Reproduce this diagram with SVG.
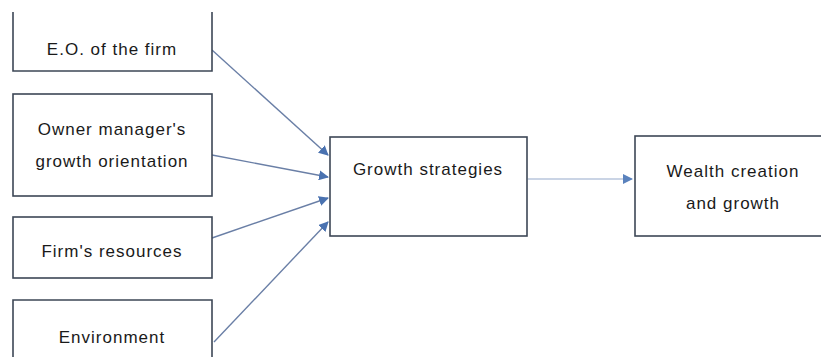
<svg xmlns="http://www.w3.org/2000/svg" width="821" height="357" viewBox="0 0 821 357">
  <defs>
    <marker id="arrow" viewBox="0 0 10 10" refX="9" refY="5" markerWidth="10" markerHeight="10" markerUnits="userSpaceOnUse" orient="auto">
      <path d="M0,0 L10,5 L0,10 Z" fill="#4a72b0"/>
    </marker>
    <marker id="arrowLight" viewBox="0 0 10 10" refX="9" refY="5" markerWidth="10" markerHeight="10" markerUnits="userSpaceOnUse" orient="auto">
      <path d="M0,0 L10,5 L0,10 Z" fill="#5a82bd"/>
    </marker>
  </defs>
  <style>
    .box { fill: #ffffff; stroke: #3d4756; stroke-width: 1.6; }
    .label { font-family: "Liberation Sans", Arial, sans-serif; font-size: 17px; fill: #1a1a1a; text-anchor: middle; letter-spacing: 1px; }
    .conn { fill: none; stroke: #6a7fa6; stroke-width: 1.4; marker-end: url(#arrow); }
    .conn-light { fill: none; stroke: #b9c6dc; stroke-width: 1.4; marker-end: url(#arrowLight); }
  </style>
  <rect width="821" height="357" fill="#ffffff"/>

  <g id="connectors">
    <line class="conn" x1="212" y1="50" x2="328" y2="155"/>
    <line class="conn" x1="212" y1="155" x2="328" y2="177"/>
    <line class="conn" x1="212" y1="238" x2="328" y2="198"/>
    <line class="conn" x1="214" y1="342" x2="328" y2="222"/>
    <line class="conn-light" x1="528" y1="179" x2="632" y2="179"/>
  </g>

  <g id="eo-firm">
    <path class="box" d="M13,12 V71 H212 V12"/>
    <text class="label" x="112" y="55">E.O. of the firm</text>
  </g>

  <g id="owner-orientation">
    <rect class="box" x="13" y="94" width="199" height="102"/>
    <text class="label" x="112" y="135">Owner manager's</text>
    <text class="label" x="112" y="167">growth orientation</text>
  </g>

  <g id="firm-resources">
    <rect class="box" x="13" y="217" width="199" height="61"/>
    <text class="label" x="112" y="257">Firm's resources</text>
  </g>

  <g id="environment">
    <path class="box" d="M13,360 V300 H212 V360"/>
    <text class="label" x="112" y="343">Environment</text>
  </g>

  <g id="growth-strategies">
    <rect class="box" x="330" y="137" width="197" height="99"/>
    <text class="label" x="428" y="175">Growth strategies</text>
  </g>

  <g id="wealth-creation">
    <rect class="box" x="635" y="136" width="200" height="100"/>
    <text class="label" x="733" y="177">Wealth creation</text>
    <text class="label" x="733" y="209">and growth</text>
  </g>
</svg>
